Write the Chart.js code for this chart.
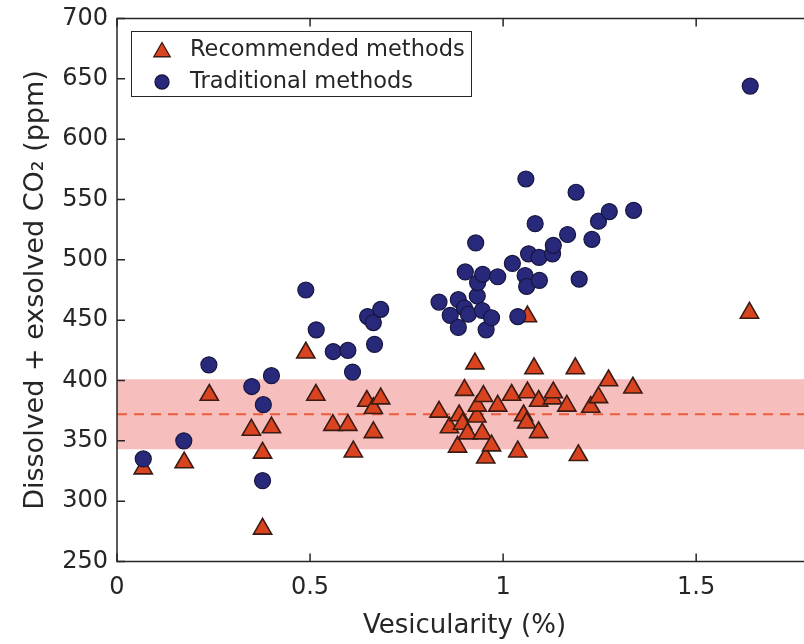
<!DOCTYPE html>
<html>
<head>
<meta charset="utf-8">
<title>CO2 vs vesicularity</title>
<script src="https://cdn.jsdelivr.net/npm/chart.js@4.4.0/dist/chart.umd.min.js"></script>
<style>
  html, body { margin: 0; padding: 0; background: #fff; overflow: hidden; }
  #wrap { width: 812px; height: 644px; }
</style>
</head>
<body>
<div id="wrap"><canvas id="co2Chart" width="812" height="644"></canvas></div>
<script>
// values
const recX = [0.068, 0.174, 0.239, 0.348, 0.377, 0.377, 0.400, 0.489, 0.515, 0.559,
              0.598, 0.612, 0.647, 0.664, 0.664, 0.683, 0.834, 0.861, 0.882, 0.886,
              0.895, 0.900, 0.908, 0.927, 0.932, 0.933, 0.946, 0.949, 0.955, 0.970,
              0.986, 1.022, 1.038, 1.053, 1.061, 1.063, 1.063, 1.080, 1.092, 1.092,
              1.128, 1.130, 1.165, 1.187, 1.195, 1.227, 1.247, 1.273, 1.336, 1.638];
const recY = [327, 332, 388, 359, 340, 277, 361, 423, 388, 363,
              363, 341, 383, 377, 357, 385, 374, 361, 345, 371,
              364, 392, 356, 414, 370, 379, 356, 387, 336, 346,
              379, 388, 341, 371, 365, 390, 453, 410, 383, 357,
              385, 390, 379, 410, 338, 378, 386, 400, 394, 456];

const tradX = [0.068, 0.173, 0.238, 0.349, 0.377, 0.379, 0.400, 0.489, 0.516, 0.560,
               0.598, 0.610, 0.649, 0.664, 0.667, 0.683, 0.834, 0.863, 0.884, 0.884,
               0.900, 0.902, 0.910, 0.929, 0.933, 0.934, 0.946, 0.947, 0.956, 0.970,
               0.986, 1.024, 1.038, 1.057, 1.059, 1.061, 1.066, 1.083, 1.093, 1.094,
               1.128, 1.130, 1.167, 1.189, 1.197, 1.230, 1.247, 1.275, 1.338, 1.640];
const tradY = [335, 350, 413, 395, 317, 380, 404, 475, 442, 424,
               425, 407, 453, 448, 430, 459, 465, 454, 467, 444,
               460, 490, 455, 514, 470, 481, 458, 488, 442, 452,
               486, 497, 453, 487, 567, 478, 505, 530, 502, 483,
               505, 512, 521, 556, 484, 517, 532, 540, 541, 644];

const bandLow = 343;
const bandHigh = 401;
const bandMean = 372;

const xTicks = [0, 0.5, 1, 1.5];
const yTicks = [250, 300, 350, 400, 450, 500, 550, 600, 650, 700];
const xRange = [0, 1.8];
const yRange = [250, 700];

const FONT = '"DejaVu Sans", "Liberation Sans", Arial, sans-serif';
const INK = '#262626';

function toPoints(xs, ys) {
    return xs.map((x, i) => ({ x: x, y: ys[i] }));
}

const recStyle = { pointStyle: 'triangle', radius: 10.5, fill: '#d9431f', stroke: '#3a1c14' };
const tradStyle = { pointStyle: 'circle', radius: 8, fill: '#29297b', stroke: '#16163f' };

// box round the plot, with inward ticks on all four sides
const framePlugin = {
    id: 'frame',
    afterDatasetsDraw(chart) {
        const { ctx, chartArea: a, scales } = chart;
        const len = 8;
        ctx.save();
        ctx.strokeStyle = INK;
        ctx.lineWidth = 1.5;
        ctx.strokeRect(a.left, a.top, a.right - a.left, a.bottom - a.top);
        ctx.beginPath();
        for (const v of xTicks) {
            const px = scales.x.getPixelForValue(v);
            ctx.moveTo(px, a.bottom); ctx.lineTo(px, a.bottom - len);
            ctx.moveTo(px, a.top); ctx.lineTo(px, a.top + len);
        }
        for (const v of yTicks) {
            const py = scales.y.getPixelForValue(v);
            ctx.moveTo(a.left, py); ctx.lineTo(a.left + len, py);
            ctx.moveTo(a.right, py); ctx.lineTo(a.right - len, py);
        }
        ctx.stroke();
        ctx.restore();
    }
};

// boxed legend inside the plot, top left
const boxLegend = {
    id: 'boxLegend',
    afterDraw(chart) {
        const ctx = chart.ctx;
        const rows = [
            { label: 'Recommended methods', s: recStyle },
            { label: 'Traditional methods', s: tradStyle }
        ];
        ctx.save();
        ctx.fillStyle = '#fff';
        ctx.fillRect(131, 31, 341, 66);
        ctx.strokeStyle = INK;
        ctx.lineWidth = 1;
        ctx.strokeRect(131.5, 31.5, 340, 65);
        rows.forEach((r, i) => {
            const y = 50 + i * 32;
            ctx.fillStyle = r.s.fill;
            ctx.strokeStyle = r.s.stroke;
            ctx.lineWidth = 1.3;
            Chart.helpers.drawPoint(ctx, {
                pointStyle: r.s.pointStyle,
                radius: r.s.pointStyle === 'triangle' ? 9.5 : 7,
                rotation: 0,
                borderWidth: 1.3
            }, 162, r.s.pointStyle === 'triangle' ? y + 2 : y);
            ctx.fillStyle = INK;
            ctx.font = '22.5px ' + FONT;
            ctx.textBaseline = 'middle';
            ctx.textAlign = 'left';
            ctx.fillText(r.label, 190, y);
        });
        ctx.restore();
    }
};

const ctx = document.getElementById('co2Chart').getContext('2d');
new Chart(ctx, {
    type: 'scatter',
    data: {
        datasets: [
            {
                label: 'Recommended methods',
                data: toPoints(recX, recY),
                pointStyle: recStyle.pointStyle,
                pointRadius: recStyle.radius,
                backgroundColor: recStyle.fill,
                borderColor: recStyle.stroke,
                borderWidth: 1.6,
                order: 2
            },
            {
                label: 'Traditional methods',
                data: toPoints(tradX, tradY),
                pointStyle: tradStyle.pointStyle,
                pointRadius: tradStyle.radius,
                backgroundColor: tradStyle.fill,
                borderColor: tradStyle.stroke,
                borderWidth: 1.2,
                order: 1
            },
            {
                type: 'line',
                label: 'mean',
                data: [{ x: xRange[0], y: bandMean }, { x: xRange[1], y: bandMean }],
                borderColor: '#ea5c3c',
                borderWidth: 2,
                borderDash: [10, 7],
                pointRadius: 0,
                fill: false,
                order: 3
            },
            {
                type: 'line',
                label: 'range',
                data: [{ x: xRange[0], y: bandHigh }, { x: xRange[1], y: bandHigh }],
                borderWidth: 0,
                borderColor: 'rgba(0,0,0,0)',
                backgroundColor: 'rgb(247,190,190)',
                pointRadius: 0,
                fill: { value: bandLow },
                order: 4
            }
        ]
    },
    options: {
        responsive: false,
        animation: false,
        events: [],
        layout: {
            autoPadding: false,
            padding: { top: 18.5, right: 0, bottom: 0, left: 0 }
        },
        plugins: {
            legend: { display: false },
            tooltip: { enabled: false }
        },
        scales: {
            x: {
                type: 'linear',
                min: xRange[0],
                max: xRange[1],
                afterBuildTicks: s => { s.ticks = xTicks.map(v => ({ value: v })); },
                afterFit: s => { s.height = 82.5; s.paddingLeft = 0; s.paddingRight = 0; },
                grid: { display: false, drawTicks: false },
                border: { display: false },
                ticks: {
                    callback: v => String(v),
                    color: INK,
                    font: { family: FONT, size: 24 },
                    padding: 12,
                    maxRotation: 0
                },
                title: {
                    display: true,
                    text: 'Vesicularity (%)',
                    color: INK,
                    font: { family: FONT, size: 26 },
                    padding: { top: 0, bottom: 2 }
                }
            },
            y: {
                type: 'linear',
                min: yRange[0],
                max: yRange[1],
                afterBuildTicks: s => { s.ticks = yTicks.map(v => ({ value: v })); },
                afterFit: s => { s.width = 117; s.paddingTop = 0; s.paddingBottom = 0; },
                grid: { display: false, drawTicks: false },
                border: { display: false },
                ticks: {
                    callback: v => String(v),
                    color: INK,
                    font: { family: FONT, size: 24 },
                    padding: 9
                },
                title: {
                    display: true,
                    text: 'Dissolved + exsolved CO\u2082 (ppm)',
                    color: INK,
                    font: { family: FONT, size: 27 },
                    padding: { top: 20, bottom: 0 }
                }
            }
        }
    },
    plugins: [framePlugin, boxLegend]
});
</script>
</body>
</html>
